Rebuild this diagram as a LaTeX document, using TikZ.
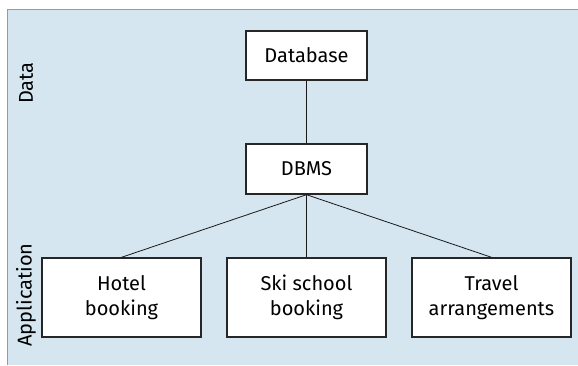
\documentclass[tikz,border=0pt]{standalone}
\usepackage{fontspec}
\setmainfont{Fira Sans}
\definecolor{panel}{HTML}{D5E6F0}
\definecolor{edge}{HTML}{9A9A9A}
\begin{document}
\begin{tikzpicture}[x=1pt,y=-1pt,
  box/.style={draw=black!85,line width=1.4pt,fill=white,inner sep=0pt,
    font=\fontsize{20}{25}\selectfont,align=center},
  link/.style={draw=black!90,line width=0.8pt},
  side/.style={font=\fontsize{20}{25}\selectfont,rotate=90,inner sep=0pt}]
\useasboundingbox (0,0) rectangle (578,365);
\fill[panel] (7.5,9.5) rectangle (578,365);
\draw[edge,line width=1.2pt] (7.5,365) -- (7.5,9.5) -- (578,9.5);
\node[box,minimum width=121pt,minimum height=49pt] (db) at (306.5,55.5) {Database};
\node[box,minimum width=121pt,minimum height=50pt] (dbms) at (306.5,169) {DBMS};
\node[box,minimum width=159pt,minimum height=79pt] (hotel) at (121.5,297.5) {Hotel\\booking};
\node[box,minimum width=159pt,minimum height=79pt] (ski) at (306.5,297.5) {Ski school\\booking};
\node[box,minimum width=159pt,minimum height=79pt] (travel) at (491.5,297.5) {Travel\\arrangements};
\draw[link] (db.south) -- (dbms.north);
\draw[link] (dbms.south) -- (hotel.north);
\draw[link] (dbms.south) -- (ski.north);
\draw[link] (dbms.south) -- (travel.north);
\node[side] (data) at (26,83) {Data};
\node[side] (app) at (26,295) {Application};
\end{tikzpicture}
\end{document}
